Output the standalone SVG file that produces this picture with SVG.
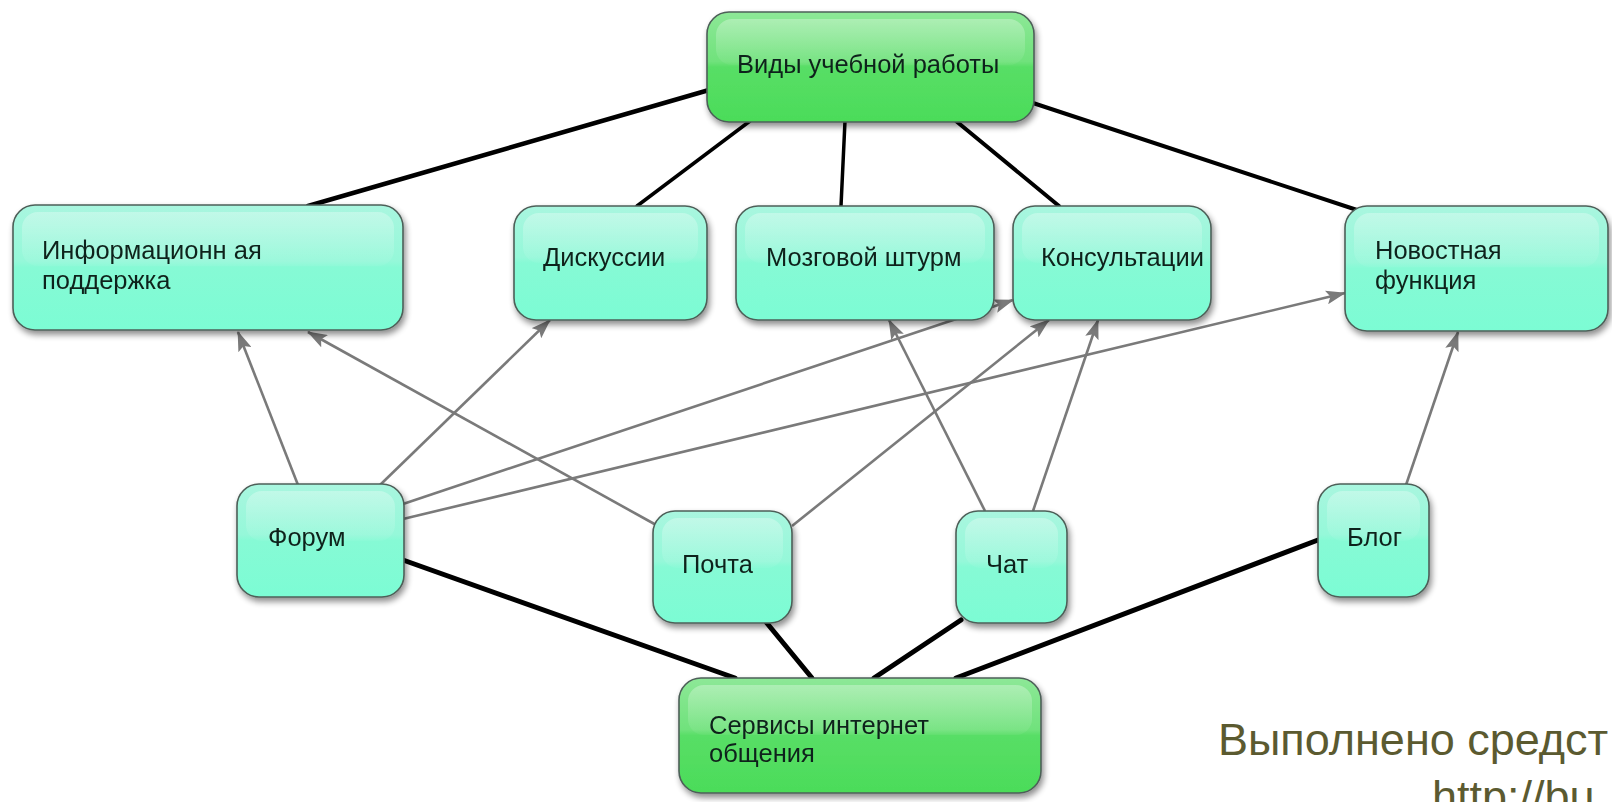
<svg xmlns="http://www.w3.org/2000/svg" width="1612" height="802" viewBox="0 0 1612 802">
<style>
  .lbl{font-family:"Liberation Sans",Arial,sans-serif;font-size:25.5px;fill:#11231b}
  .box{stroke:#4d5f58;stroke-width:1.6}
  .aq{fill:url(#gAq)}
  .gr{fill:url(#gGr)}
  .gloss{fill:url(#gGloss)}
  .blk{stroke:#000;fill:none;stroke-linecap:round}
  .arr{stroke:#7a7a7a;stroke-width:2.6;fill:none;marker-end:url(#ah)}
  .note{font-family:"Liberation Sans",Arial,sans-serif;font-size:45px;fill:#5b5a30}
</style>
<defs>
  <linearGradient id="gAq" x1="0" y1="0" x2="0" y2="1">
    <stop offset="0" stop-color="#a9f6df"/>
    <stop offset="0.45" stop-color="#95f8d9"/>
    <stop offset="0.5" stop-color="#86fad5"/>
    <stop offset="1" stop-color="#7cfcd4"/>
  </linearGradient>
  <linearGradient id="gGr" x1="0" y1="0" x2="0" y2="1">
    <stop offset="0" stop-color="#8de897"/>
    <stop offset="0.45" stop-color="#70e27c"/>
    <stop offset="0.5" stop-color="#58de66"/>
    <stop offset="1" stop-color="#4bdc59"/>
  </linearGradient>
  <linearGradient id="gGloss" x1="0" y1="0" x2="0" y2="1">
    <stop offset="0" stop-color="#fff" stop-opacity="0.3"/>
    <stop offset="1" stop-color="#fff" stop-opacity="0.04"/>
  </linearGradient>
  <filter id="sh" x="-10%" y="-10%" width="130%" height="140%">
    <feGaussianBlur in="SourceAlpha" stdDeviation="3"/>
    <feOffset dx="2" dy="4" result="b"/>
    <feComponentTransfer><feFuncA type="linear" slope="0.45"/></feComponentTransfer>
    <feMerge><feMergeNode/><feMergeNode in="SourceGraphic"/></feMerge>
  </filter>
  <marker id="ah" viewBox="0 0 20 14" refX="19" refY="7" markerWidth="20" markerHeight="14" markerUnits="userSpaceOnUse" orient="auto">
    <path d="M0,0 L20,7 L0,14 L4,7 z" fill="#7a7a7a"/>
  </marker>
</defs>
<rect width="1612" height="802" fill="#fff"/>

<g id="connectors">
  <line class="blk" stroke-width="4.5" x1="709" y1="90" x2="308" y2="206"/>
  <line class="blk" stroke-width="3.5" x1="750" y1="121" x2="637" y2="206"/>
  <line class="blk" stroke-width="3.5" x1="845" y1="121" x2="841" y2="206"/>
  <line class="blk" stroke-width="4" x1="956" y1="121" x2="1059" y2="206"/>
  <line class="blk" stroke-width="4" x1="1033" y1="103" x2="1357" y2="210"/>
  <line class="blk" stroke-width="5" x1="403" y1="560" x2="735" y2="678"/>
  <line class="blk" stroke-width="5" x1="766" y1="622" x2="812" y2="678"/>
  <line class="blk" stroke-width="5" x1="961" y1="620" x2="874" y2="678"/>
  <line class="blk" stroke-width="5" x1="1318" y1="540" x2="956" y2="678"/>
  <line class="arr" x1="298" y1="485" x2="238" y2="332"/>
  <line class="arr" x1="380" y1="485" x2="550" y2="320"/>
  <line class="arr" x1="658" y1="526" x2="308" y2="332"/>
  <line class="arr" x1="403" y1="504" x2="1013" y2="300"/>
  <line class="arr" x1="403" y1="519" x2="1345" y2="293"/>
  <line class="arr" x1="792" y1="526" x2="1049" y2="320"/>
  <line class="arr" x1="985" y1="511" x2="889" y2="320"/>
  <line class="arr" x1="1033" y1="511" x2="1098" y2="320"/>
  <line class="arr" x1="1406" y1="485" x2="1458" y2="332"/>
</g>

<g id="n-vidy" filter="url(#sh)">
  <rect class="box gr" x="707" y="12" width="327" height="110" rx="22"/>
  <rect class="gloss" x="716" y="19" width="309" height="46" rx="16"/>
  <text class="lbl" x="737" y="73">Виды учебной работы</text>
</g>
<g id="n-info" filter="url(#sh)">
  <rect class="box aq" x="13" y="205" width="390" height="125" rx="22"/>
  <rect class="gloss" x="22" y="212" width="372" height="54" rx="16"/>
  <text class="lbl" x="42" y="259">Информационн ая</text>
  <text class="lbl" x="42" y="289">поддержка</text>
</g>
<g id="n-disk" filter="url(#sh)">
  <rect class="box aq" x="514" y="206" width="193" height="114" rx="22"/>
  <rect class="gloss" x="523" y="213" width="175" height="50" rx="16"/>
  <text class="lbl" x="543" y="266">Дискуссии</text>
</g>
<g id="n-mozg" filter="url(#sh)">
  <rect class="box aq" x="736" y="206" width="258" height="114" rx="22"/>
  <rect class="gloss" x="745" y="213" width="240" height="50" rx="16"/>
  <text class="lbl" x="766" y="266">Мозговой штурм</text>
</g>
<g id="n-kons" filter="url(#sh)">
  <rect class="box aq" x="1013" y="206" width="198" height="114" rx="22"/>
  <rect class="gloss" x="1022" y="213" width="180" height="50" rx="16"/>
  <text class="lbl" x="1041" y="266">Консультации</text>
</g>
<g id="n-news" filter="url(#sh)">
  <rect class="box aq" x="1345" y="206" width="263" height="125" rx="22"/>
  <rect class="gloss" x="1354" y="213" width="245" height="54" rx="16"/>
  <text class="lbl" x="1375" y="259">Новостная</text>
  <text class="lbl" x="1375" y="289">функция</text>
</g>
<g id="n-forum" filter="url(#sh)">
  <rect class="box aq" x="237" y="484" width="167" height="113" rx="22"/>
  <rect class="gloss" x="246" y="491" width="149" height="50" rx="16"/>
  <text class="lbl" x="268" y="546">Форум</text>
</g>
<g id="n-pochta" filter="url(#sh)">
  <rect class="box aq" x="653" y="511" width="139" height="112" rx="22"/>
  <rect class="gloss" x="662" y="518" width="121" height="50" rx="16"/>
  <text class="lbl" x="682" y="573">Почта</text>
</g>
<g id="n-chat" filter="url(#sh)">
  <rect class="box aq" x="956" y="511" width="111" height="112" rx="22"/>
  <rect class="gloss" x="965" y="518" width="93" height="50" rx="16"/>
  <text class="lbl" x="986" y="573">Чат</text>
</g>
<g id="n-blog" filter="url(#sh)">
  <rect class="box aq" x="1318" y="484" width="111" height="113" rx="22"/>
  <rect class="gloss" x="1327" y="491" width="93" height="50" rx="16"/>
  <text class="lbl" x="1347" y="546">Блог</text>
</g>
<g id="n-serv" filter="url(#sh)">
  <rect class="box gr" x="679" y="678" width="362" height="115" rx="22"/>
  <rect class="gloss" x="688" y="685" width="344" height="50" rx="16"/>
  <text class="lbl" x="709" y="734">Сервисы интернет</text>
  <text class="lbl" x="709" y="762">общения</text>
</g>

<g id="note">
  <text class="note" x="1218" y="755">Выполнено средст</text>
  <text class="note" x="1432" y="812">http://bu</text>
</g>
</svg>
